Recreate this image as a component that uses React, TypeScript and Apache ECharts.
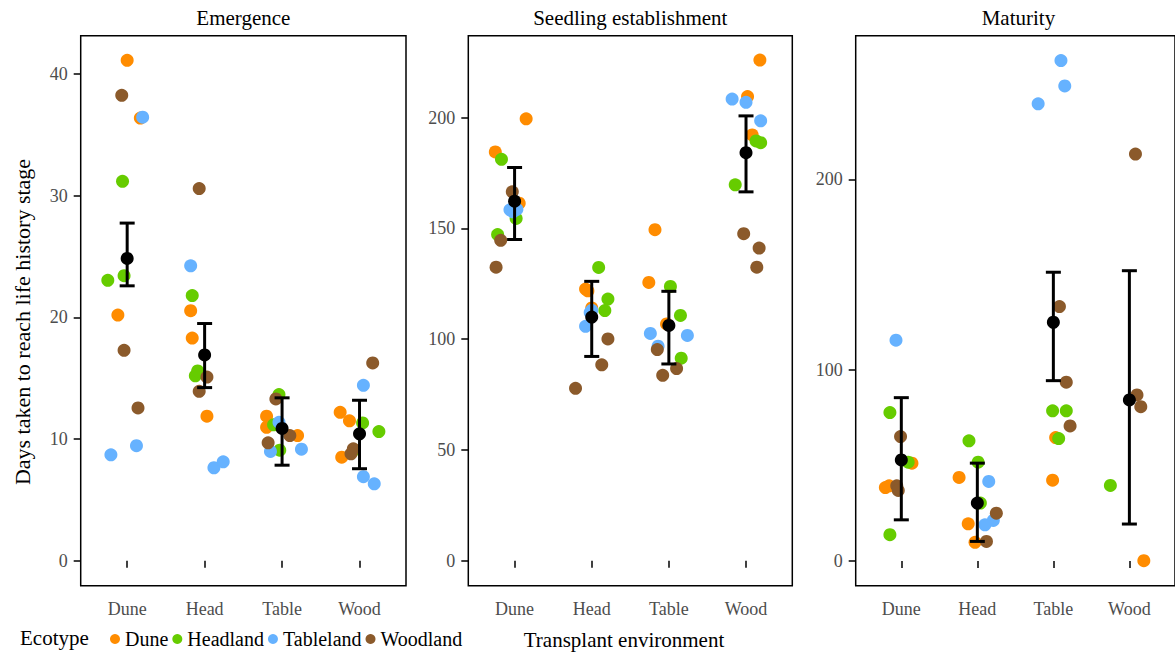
import React, { useEffect, useRef } from "react";
import * as echarts from "echarts";

const stages = ["Emergence", "Seedling establishment", "Maturity"];
const environments = ["Dune", "Head", "Table", "Wood"];
const ecotypes = ["Dune", "Headland", "Tableland", "Woodland"];
const ecotypeColors = ["#FF8C00", "#66CC00", "#66B2FF", "#8B5A2B"];

// [ecotype index, jittered environment position (1..4), days]
const emergencePoints: [number, number, number][] = [
  [0, 1.0, 41.15], [0, 1.17, 36.4], [0, 0.88, 20.2],
  [1, 0.94, 31.2], [1, 0.75, 23.05], [1, 0.96, 23.43],
  [2, 1.2, 36.47], [2, 0.79, 8.7], [2, 1.12, 9.45],
  [3, 0.93, 38.27], [3, 0.96, 17.3], [3, 1.14, 12.56],
  [0, 1.82, 20.56], [0, 1.84, 18.3], [0, 2.03, 11.88],
  [1, 1.84, 21.8], [1, 1.88, 15.2], [1, 1.91, 15.6],
  [2, 1.82, 24.25], [2, 2.12, 7.64], [2, 2.24, 8.13],
  [3, 1.93, 30.6], [3, 2.03, 15.1], [3, 1.93, 13.93],
  [0, 2.8, 11.88], [0, 2.8, 10.97], [0, 3.2, 10.29],
  [1, 2.96, 13.66], [1, 2.89, 11.17], [1, 2.97, 9.08],
  [2, 2.96, 11.38], [2, 2.85, 8.98], [2, 3.25, 9.17],
  [3, 2.92, 13.3], [3, 3.1, 10.29], [3, 2.82, 9.69],
  [0, 3.75, 12.2], [0, 3.87, 11.5], [0, 3.77, 8.51],
  [1, 4.04, 11.33], [1, 4.25, 10.62], [1, 3.93, 9.1],
  [2, 4.05, 14.42], [2, 4.05, 6.9], [2, 4.19, 6.32],
  [3, 4.17, 16.26], [3, 3.92, 9.2], [3, 3.89, 8.79],
];
const seedlingPoints: [number, number, number][] = [
  [0, 1.15, 199.5], [0, 0.75, 184.5], [0, 1.06, 161.4],
  [1, 0.83, 181.2], [1, 1.02, 154.5], [1, 0.78, 147.2],
  [2, 0.94, 158.4], [2, 1.03, 158.6], [2, 0.98, 157.5],
  [3, 0.97, 166.5], [3, 0.82, 144.6], [3, 0.76, 132.5],
  [0, 1.92, 122.6], [0, 1.95, 121.8], [0, 2.0, 114.1],
  [1, 2.09, 132.4], [1, 2.21, 118.1], [1, 2.17, 112.9],
  [2, 2.0, 113.0], [2, 1.98, 112.0], [2, 1.92, 105.8],
  [3, 2.21, 100.1], [3, 2.13, 88.4], [3, 1.79, 77.8],
  [0, 2.82, 149.4], [0, 2.74, 125.6], [0, 2.97, 106.9],
  [1, 3.02, 123.8], [1, 3.15, 110.7], [1, 3.16, 91.4],
  [2, 2.76, 102.6], [2, 3.24, 101.7], [2, 2.86, 96.8],
  [3, 2.85, 95.3], [3, 3.1, 86.7], [3, 2.92, 83.7],
  [0, 4.18, 226.0], [0, 4.02, 209.5], [0, 4.08, 192.2],
  [1, 4.13, 189.5], [1, 4.19, 188.7], [1, 3.86, 169.7],
  [2, 3.82, 208.4], [2, 4.0, 206.9], [2, 4.19, 198.6],
  [3, 3.97, 147.6], [3, 4.17, 141.1], [3, 4.14, 132.5],
];
const maturityPoints: [number, number, number][] = [
  [0, 1.14, 51.3], [0, 0.79, 38.5], [0, 0.84, 39.4],
  [1, 0.85, 77.8], [1, 1.09, 51.8], [1, 0.85, 13.8],
  [2, 0.93, 115.7],
  [3, 0.99, 65.2], [3, 0.94, 39.4], [3, 0.96, 37.0],
  [0, 1.76, 43.8], [0, 1.88, 19.5], [0, 1.97, 9.8],
  [1, 1.89, 63.0], [1, 2.01, 51.8], [1, 2.04, 30.4],
  [2, 2.15, 41.7], [2, 2.21, 21.3], [2, 2.1, 19.0],
  [3, 2.25, 25.1], [3, 2.12, 10.3],
  [0, 3.03, 64.7], [0, 2.99, 42.4],
  [1, 2.99, 78.7], [1, 3.17, 78.7], [1, 3.07, 64.2],
  [2, 3.1, 262.2], [2, 3.15, 248.9], [2, 2.8, 239.5],
  [3, 3.08, 133.3], [3, 3.17, 93.7], [3, 3.22, 70.8],
  [0, 4.19, 0.2],
  [1, 3.75, 39.6],
  [3, 4.08, 213.2], [3, 4.1, 87.0], [3, 4.15, 80.9],
];

const emergenceMean = [24.85, 16.92, 10.87, 10.43];
const emergenceLower = [22.6, 14.23, 7.85, 7.56];
const emergenceUpper = [27.76, 19.5, 13.39, 13.19];
const seedlingMean = [162.3, 110.0, 106.2, 184.2];
const seedlingLower = [145.0, 92.2, 88.8, 166.5];
const seedlingUpper = [177.5, 126.1, 121.6, 200.8];
const maturityMean = [53.0, 30.4, 125.1, 84.4];
const maturityLower = [21.6, 10.3, 94.5, 19.4];
const maturityUpper = [85.6, 51.3, 151.3, 152.1];

const emergenceTicks = [0, 10, 20, 30, 40];
const seedlingTicks = [0, 50, 100, 150, 200];
const maturityTicks = [0, 100, 200];

const FONT = "Liberation Serif";

export default function App() {
  const ref = useRef<HTMLDivElement>(null);
  useEffect(() => {
    if (!ref.current) return;
    const chart = echarts.init(ref.current, undefined, { renderer: "svg" });

    const panels = [
      { points: emergencePoints, mean: emergenceMean, lo: emergenceLower, hi: emergenceUpper, ticks: emergenceTicks, min: -2.06, max: 43.17 },
      { points: seedlingPoints, mean: seedlingMean, lo: seedlingLower, hi: seedlingUpper, ticks: seedlingTicks, min: -11.3, max: 237.0 },
      { points: maturityPoints, mean: maturityMean, lo: maturityLower, hi: maturityUpper, ticks: maturityTicks, min: -12.9, max: 275.2 },
    ];
    const gridBoxes = [
      { left: 80.7, width: 325.3 },
      { left: 468.3, width: 324 },
      { left: 855.7, width: 325.5 },
    ];

    const grid = gridBoxes.map((g) => ({
      left: g.left, width: g.width, top: 35.7, height: 550,
      show: true, borderColor: "#000", borderWidth: 1.5, backgroundColor: "transparent",
      containLabel: false,
    }));

    const xAxis = panels.map((_, i) => ({
      type: "value", gridIndex: i, min: 0.4, max: 4.6,
      splitLine: { show: false },
      axisLine: { show: false },
      axisTick: { show: true, length: 7, customValues: [1, 2, 3, 4], lineStyle: { color: "#000", width: 1.5 } },
      axisLabel: {
        customValues: [1, 2, 3, 4], margin: 14,
        formatter: (v: number) => environments[Math.round(v) - 1] ?? "",
        color: "#4D4D4D", fontSize: 18, fontFamily: FONT,
      },
    }));

    const yAxis = panels.map((p, i) => ({
      type: "value", gridIndex: i, min: p.min, max: p.max,
      splitLine: { show: false },
      axisLine: { show: false },
      axisTick: { show: true, length: 7, customValues: p.ticks, lineStyle: { color: "#000", width: 1.5 } },
      axisLabel: {
        customValues: p.ticks, margin: 13,
        color: "#4D4D4D", fontSize: 18, fontFamily: FONT,
      },
    }));

    const series: any[] = [];
    panels.forEach((p, i) => {
      ecotypes.forEach((eco, e) => {
        series.push({
          type: "scatter", name: eco, xAxisIndex: i, yAxisIndex: i,
          symbolSize: 13, itemStyle: { color: ecotypeColors[e], opacity: 1 },
          data: p.points.filter((pt) => pt[0] === e).map((pt) => [pt[1], pt[2]]),
          z: 2,
        });
      });
      series.push({
        type: "custom", xAxisIndex: i, yAxisIndex: i, z: 5,
        data: environments.map((_, k) => [k + 1, p.lo[k], p.hi[k]]),
        encode: { x: 0, y: [1, 2] },
        renderItem: (params: any, api: any) => {
          const x = api.value(0);
          const a = api.coord([x, api.value(1)]);
          const b = api.coord([x, api.value(2)]);
          const hw = 7.5;
          const st = { stroke: "#000", lineWidth: 3 };
          return {
            type: "group",
            children: [
              { type: "line", shape: { x1: a[0], y1: a[1], x2: b[0], y2: b[1] }, style: st },
              { type: "line", shape: { x1: a[0] - hw, y1: a[1], x2: a[0] + hw, y2: a[1] }, style: st },
              { type: "line", shape: { x1: b[0] - hw, y1: b[1], x2: b[0] + hw, y2: b[1] }, style: st },
            ],
          };
        },
      });
      series.push({
        type: "scatter", xAxisIndex: i, yAxisIndex: i, z: 6,
        symbolSize: 13, itemStyle: { color: "#000", opacity: 1 },
        data: p.mean.map((m, k) => [k + 1, m]),
      });
    });

    const graphic: any[] = [
      ...stages.map((s, i) => ({
        type: "text", x: gridBoxes[i].left + gridBoxes[i].width / 2, y: 18,
        style: { text: s, align: "center", verticalAlign: "middle", fontSize: 21, fontFamily: FONT, fill: "#000" },
      })),
      {
        type: "text", x: 22, y: 322, rotation: Math.PI / 2,
        style: { text: "Days taken to reach life history stage", align: "center", verticalAlign: "middle", fontSize: 22, fontFamily: FONT, fill: "#000" },
      },
      {
        type: "text", x: 624, y: 640,
        style: { text: "Transplant environment", align: "center", verticalAlign: "middle", fontSize: 21, fontFamily: FONT, fill: "#000" },
      },
      {
        type: "text", x: 20, y: 638,
        style: { text: "Ecotype", align: "left", verticalAlign: "middle", fontSize: 21, fontFamily: FONT, fill: "#000" },
      },
    ];

    chart.setOption({
      animation: false,
      backgroundColor: "#fff",
      textStyle: { fontFamily: FONT },
      grid, xAxis, yAxis, series, graphic,
      legend: {
        data: ecotypes, left: 105, top: 624, icon: "circle",
        itemWidth: 10, itemHeight: 10, itemGap: 4, selectedMode: false,
        textStyle: { fontSize: 20, fontFamily: FONT, color: "#000" },
      },
    });
    return () => chart.dispose();
  }, []);
  return <div ref={ref} style={{ position: "absolute", left: 0, top: 0, width: 1175, height: 652 }} />;
}
